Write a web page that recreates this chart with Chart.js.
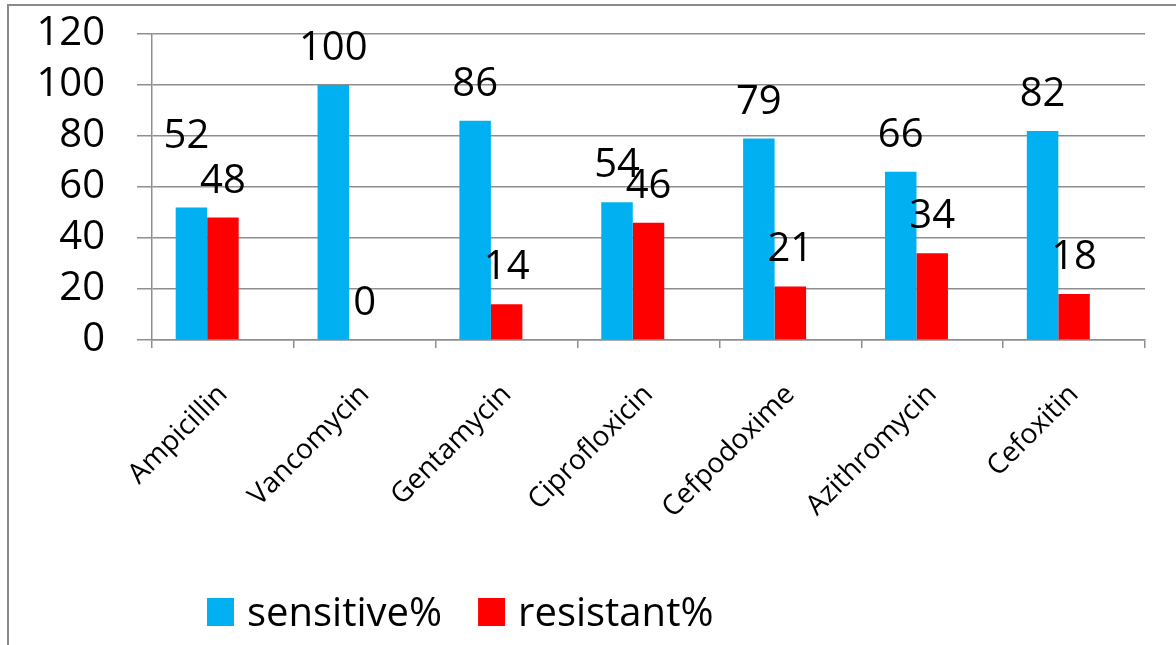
<!DOCTYPE html>
<html>
<head>
<meta charset="utf-8">
<title>Antibiotic sensitivity</title>
<script src="https://cdn.jsdelivr.net/npm/chart.js@4.4.1/dist/chart.umd.min.js"></script>
<style>
  html, body { margin: 0; padding: 0; background: #ffffff; }
  #wrap { position: relative; width: 1176px; height: 645px; }
</style>
</head>
<body>
<div id="wrap"><canvas id="chart"></canvas></div>
<script>
// Antibiotics tested
const antibiotics = ['Ampicillin', 'Vancomycin', 'Gentamycin', 'Ciprofloxicin', 'Cefpodoxime', 'Azithromycin', 'Cefoxitin'];
// Percentage of isolates sensitive / resistant to each antibiotic
const sensitivePct = [52, 100, 86, 54, 79, 66, 82];
const resistantPct = [48, 0, 14, 46, 21, 34, 18];
const seriesNames = ['sensitive%', 'resistant%'];
// Value axis
const yMin = 0;
const yMax = 120;
const yStep = 20;

const FONT = "'Open Sans', 'Noto Sans', sans-serif";
const GRID = '#8e8e8e';
const BLUE = '#00B0F0';
const RED = '#FF0000';

// Empty third slot in each group (the workbook series that holds no values)
const emptySeries = antibiotics.map(() => null);

// Manual nudges for value labels that were moved by hand: "dataset-index": [dx, dy]
const labelNudge = { '0-0': [-5, -34] };

const frameAndBackground = {
  id: 'frameAndBackground',
  beforeDraw(chart) {
    const { ctx, width, height } = chart;
    ctx.save();
    ctx.fillStyle = '#ffffff';
    ctx.fillRect(0, 0, width, height);
    ctx.strokeStyle = '#8a8a8a';
    ctx.lineWidth = 2;
    ctx.beginPath();
    ctx.moveTo(8, height);
    ctx.lineTo(8, 5);
    ctx.lineTo(width, 5);
    ctx.stroke();
    ctx.restore();
  }
};

const valueLabels = {
  id: 'valueLabels',
  afterDatasetsDraw(chart) {
    const { ctx } = chart;
    ctx.save();
    ctx.font = `40px ${FONT}`;
    ctx.fillStyle = '#000000';
    ctx.textAlign = 'center';
    ctx.textBaseline = 'alphabetic';
    [0, 1].forEach(di => {
      const meta = chart.getDatasetMeta(di);
      const values = chart.data.datasets[di].data;
      meta.data.forEach((bar, i) => {
        const v = values[i];
        if (v === null || v === undefined) return;
        const n = labelNudge[`${di}-${i}`] || [0, 0];
        ctx.fillText(String(v), bar.x + n[0], bar.y - 25 + n[1]);
      });
    });
    ctx.restore();
  }
};

const bottomLegend = {
  id: 'bottomLegend',
  afterDraw(chart) {
    const { ctx } = chart;
    const colors = [BLUE, RED];
    ctx.save();
    ctx.font = `40px ${FONT}`;
    ctx.textAlign = 'left';
    ctx.textBaseline = 'alphabetic';
    let x = 207;
    const boxTop = 598, box = 27, baseline = 626;
    seriesNames.forEach((name, i) => {
      ctx.fillStyle = colors[i];
      ctx.fillRect(x, boxTop, box, box + 1);
      ctx.fillStyle = '#000000';
      ctx.fillText(name, x + box + 13, baseline);
      x += box + 13 + ctx.measureText(name).width + 36;
    });
    ctx.restore();
  }
};

new Chart(document.getElementById('chart'), {
  type: 'bar',
  data: {
    labels: antibiotics,
    datasets: [
      { label: seriesNames[0], data: sensitivePct, backgroundColor: BLUE },
      { label: seriesNames[1], data: resistantPct, backgroundColor: RED },
      { label: '', data: emptySeries, backgroundColor: 'rgba(0,0,0,0)' }
    ]
  },
  options: {
    responsive: true,
    maintainAspectRatio: false,
    devicePixelRatio: 1,
    animation: false,
    layout: { padding: { top: 34, right: 31, left: 0, bottom: 0 } },
    datasets: { bar: { categoryPercentage: 0.666, barPercentage: 1.0, borderWidth: 0 } },
    plugins: {
      legend: { display: false },
      tooltip: { enabled: false }
    },
    scales: {
      x: {
        grid: { drawOnChartArea: false, offset: true, tickLength: 8, color: GRID, lineWidth: 1.5 },
        border: { color: GRID, width: 1.5 },
        ticks: {
          color: '#000000',
          font: { family: FONT, size: 28 },
          minRotation: 45,
          maxRotation: 45,
          autoSkip: false,
          padding: 30
        },
        afterFit(scale) {
          scale.height = 305;
          scale.paddingLeft = 0;
          scale.paddingRight = 0;
        }
      },
      y: {
        min: yMin,
        max: yMax,
        grid: { color: GRID, lineWidth: 1.5, tickLength: 15 },
        border: { color: GRID, width: 1.5 },
        ticks: {
          stepSize: yStep,
          autoSkip: false,
          color: '#000000',
          font: { family: FONT, size: 40 },
          padding: 32
        },
        afterFit(scale) {
          scale.width = 152;
          scale.paddingTop = 0;
          scale.paddingBottom = 0;
        }
      }
    }
  },
  plugins: [frameAndBackground, valueLabels, bottomLegend]
});
</script>
</body>
</html>
